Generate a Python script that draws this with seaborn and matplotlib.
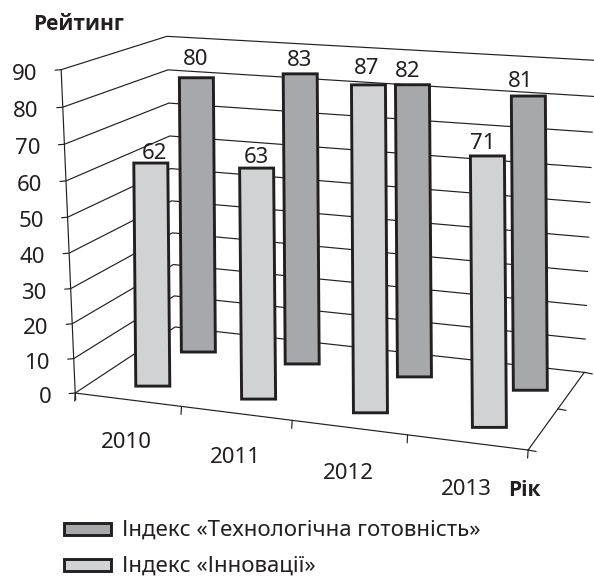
import numpy as np
import pandas as pd
import matplotlib.pyplot as plt
from matplotlib.patches import Rectangle
import seaborn as sns

years = ['2010', '2011', '2012', '2013']
innovation = [62, 63, 87, 71]
readiness = [80, 83, 82, 81]
y_ticks = [0, 10, 20, 30, 40, 50, 60, 70, 80, 90]

LIGHT = '#d0d2d3'
DARK = '#a7a8ab'
INK = '#231f20'

# camera for the fake 3D box: (category, depth, value) -> pixels, fitted on the box corners
box_3d = [(0, 0, 0), (0, 0, 90), (0, 1, 0), (0, 1, 90), (4, 1, 0), (4, 1, 90), (4, 0, 0)]
box_px = [(73.3, 392.7), (62.3, 70.7), (177, 327), (165.7, 35.7), (583.3, 373.3), (595, 60), (529, 449.3)]

rows = []
for (u, v, w), (px, py) in zip(box_3d, box_px):
    rows.append([u, v, w, 1, 0, 0, 0, 0, -px*u, -px*v, -px*w, -px])
    rows.append([0, 0, 0, 0, u, v, w, 1, -py*u, -py*v, -py*w, -py])
cam = np.linalg.svd(np.array(rows, float))[2][-1].reshape(3, 4)


def project(u, v, w):
    x, y, z = cam @ np.array([u, v, w, 1.0])
    return x/z, y/z


sns.set_theme(style='white')
plt.rcParams['font.family'] = ['Noto Sans', 'DejaVu Sans']

fig = plt.figure(figsize=(5.94, 5.77), dpi=100)
ax = fig.add_axes([0, 0, 1, 1])
ax.set_xlim(0, 594)
ax.set_ylim(577, 0)
ax.axis('off')

# box lines, one unit per polyline
lines = []


def add_line(name, points):
    for x, y in points:
        lines.append({'line': name, 'order': len(lines), 'x': x, 'y': y})


for t in y_ticks:
    x0, y0 = project(0, 0, t)
    add_line(f'grid{t}', [(x0-6, y0+0.5), (x0, y0), project(0, 1, t), project(4, 1, t)])
add_line('left', [project(0, 0, 0), project(0, 0, 90)])
x0, y0 = project(0, 0, 0)
add_line('left_tail', [(x0, y0), (x0+0.5, y0+7)])
add_line('front', [project(0, 0, 0), project(4, 0, 0)])
add_line('side', [project(4, 0, 0), project(4, 1, 0)])
for i in range(5):
    x0, y0 = project(i, 0, 0)
    add_line(f'xtick{i}', [(x0, y0), (x0-0.5, y0+8)])
for d in [0, 0.5, 1]:
    x0, y0 = project(4, d, 0)
    add_line(f'ztick{d}', [(x0, y0), (x0+8, y0+1.5)])

sns.lineplot(data=pd.DataFrame(lines), x='x', y='y', units='line', estimator=None, sort=False,
             color=INK, lw=0.85, ax=ax, legend=False, zorder=1)

# flat bars, as in the original: they face the viewer, only the foot follows the floor
bar_w = 34
bar_tilt = 2
bar_base = -1.2
bar_scale = 1.015


def draw_bars(values, depth, slots, label_dx, label_dy, color, z):
    for i, val in enumerate(values):
        xb, yb = project(i+slots[i], depth, bar_base)
        yt = project(i+slots[i], depth, val*bar_scale)[1]
        xt = xb-bar_tilt
        ax.fill([xb-bar_w/2, xb+bar_w/2, xt+bar_w/2, xt-bar_w/2],
                [yb, yb, yt, yt], facecolor=color, edgecolor=INK, lw=2.1,
                joinstyle='miter', zorder=z)
        ax.text(xt+label_dx[i], yt+label_dy[i], str(val), ha='center', va='center',
                fontsize=16, color=INK, zorder=5)


draw_bars(readiness, 0.74, [0.48, 0.51, 0.58, 0.64], [-1, -1, -5, -8], [-18, -13, -13, -15], DARK, 2)
draw_bars(innovation, 0.24, [0.5, 0.5, 0.515, 0.55], [4, 0, -2, -5], [-10, -10.5, -16, -12], LIGHT, 3)

for t in y_ticks:
    x0, y0 = project(0, 0, t)
    ax.text(x0-24, y0+4.5, str(t), ha='right', va='center', fontsize=16, color=INK)
for i, year in enumerate(years):
    x0, y0 = project(i+0.5, 0, 0)
    ax.text(x0-1, y0+43+i*1.3, year, ha='center', va='center', fontsize=16, color=INK)

ax.text(33, 25, 'Рейтинг', ha='left', va='center', fontsize=15, fontweight='bold',
        family=['Open Sans', 'DejaVu Sans'], color=INK)
ax.text(508, 491, 'Рік', ha='left', va='center', fontsize=15, fontweight='bold',
        family=['Open Sans', 'DejaVu Sans'], color=INK)

# legend by hand, the swatches are wide and flat
legend_items = [(529, DARK, 'Індекс «Технологічна готовність»'), (564.5, LIGHT, 'Індекс «Інновації»')]
for yc, color, label in legend_items:
    ax.add_patch(Rectangle((63.5, yc-6), 47, 12, facecolor=color, edgecolor=INK, lw=2.1, joinstyle='miter'))
    ax.text(122, yc+1.5, label, ha='left', va='center', fontsize=16, color=INK)

fig.savefig('out.png', dpi=100)
